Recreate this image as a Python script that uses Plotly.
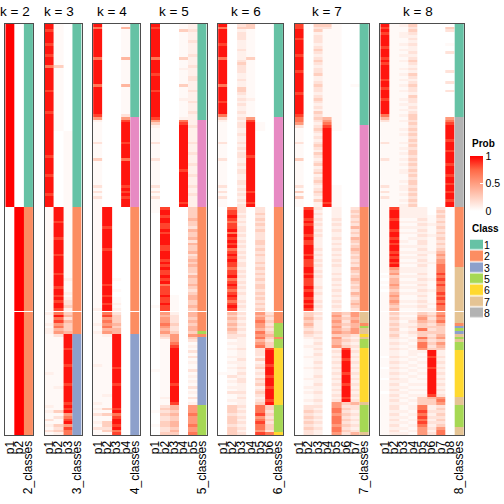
import plotly.graph_objects as go

# ---------------- data (one character per sample row, 150 rows) ----------------
# class strings: digit = class id ; prob strings: digit = membership level (see prob_levels)
classes_k2 = "1111111111 1111111111 1111111111 1111111111 1111111111 1111111111 1111111222 2222222222 2222222222 2222222222 2222222222 2222222222 2222222222 2222222222 2222222222"
p1_k2 = "aaaaaaaaaa aaaaaaaaaa aaaaaaaaaa aaaaaaaaaa aaaaaaaaaa aaaaaaaaaa aaaaaaa000 0000000000 0000000000 0000000000 0000000000 0000000000 0000000000 0000000000 0000000000"
p2_k2 = "0000000000 0000000000 0000000000 0000000000 0000000000 0000000000 0000000aaa aaaaaaaaaa aaaaaaaaaa aaaaaaaaaa aaaaaaaaaa aaaaaaaaaa aaaaaaaaaa aaaaaaaaaa aaaaaaaaaa"

classes_k3 = "1111111111 1111111111 1111111111 1111111111 1111111111 1111111111 1111111222 2222222222 2222222222 2222222222 2222222222 2223333333 3333333333 3333333333 3333333333"
p1_k3 = "9989999899 9899979999 9999899999 9989999999 9999999989 9999989999 9989999111 1111111111 1111111111 1111111111 1111121112 1221111111 1111111211 1111111112 1211312131"
p2_k3 = "1111111111 1111141111 1111111111 1111111110 0000000000 0000000000 0000000999 9989999989 9999899999 9899998998 9899879786 7563111111 1111111111 1121111111 1413114342"
p3_k3 = "0000000000 0000000000 0000000000 0000000001 1111111111 1111111111 1111111111 1111111111 1111111111 1112111121 2334245354 4459999989 9999899999 9899999989 8967896877"

classes_k4 = "1111111111 1111111111 1111111111 1111444444 4444444444 4444444444 4444444222 2222222222 2222222222 2222222222 2222222222 2223333333 3333333333 3333333333 3333333333"
p1_k4 = "9799999999 9979999999 9979999999 9998621111 1113111114 1111111113 1313111111 1111111111 1111111111 1111111111 1111211112 1121111111 1111211111 1111111121 2131121311"
p2_k4 = "0000000000 0000000000 0000000000 0000000000 0000000000 0000000000 0000000999 9999899999 9989999999 9999989998 9989978676 7562111111 1111111111 1111121111 4141144341"
p3_k4 = "0000000000 0000000000 0000000000 0000000000 0000000000 0000000000 0000000000 0000000000 0000000000 0001000100 1121234445 4559999999 9999989999 9899999999 8978998978"
p4_k4 = "1511111111 1151111111 1151111111 1113689999 9998999997 9999999998 9898999000 0000000000 0000000000 0000000000 0000000000 0000000000 0000000000 0000000000 0000000000"

classes_k5 = "1111111111 1111111111 1111111111 1111144444 4444444444 4444444444 4444444222 2222222222 2222222222 2222222222 2222222222 2252333333 3333333333 3333333335 5555555555"
p1_k5 = "9899999999 9979999989 9999899999 9999864211 1113111113 1111111113 1313111110 0000000000 0000000000 0000000000 0001000000 0000000000 0000001000 0000000000 0100001000"
p2_k5 = "0000000000 0000000000 0000000000 0000000000 0000000000 0000000000 0000000899 8998898999 9889998989 8898978889 8898865667 6564311111 1111111111 1111112113 4343344334"
p3_k5 = "0000000000 0000000000 0000000000 0000000000 0000000000 0000000000 0000000000 0000000000 0000000000 0000000001 1111123334 3346667899 9999999999 9899999985 5454455454"
p4_k5 = "1141111111 1141112111 1141111211 1111278999 9999999999 9998999999 9999989000 0000000000 0000000000 0000000000 0000000000 0000000000 0000000000 0000000000 0000000000"
p5_k5 = "2232223222 2322232223 3222322232 2232222322 2223222322 2322232223 2232222444 4544354453 5445345454 4354454345 5445455454 5546431213 1312113121 2131213126 6676667667"

classes_k6 = "1111111111 1111111111 1111111111 1111444444 4444444444 4444444444 4444444222 2222222222 2222222222 2222222222 2222222225 5555255566 6666666666 6666666665 5555555556"
p1_k6 = "9799999899 9979999999 9979999989 9997421111 1113111113 1111111113 1313111000 0000000000 0000000000 0000000000 0000000000 0000000000 0000000100 0000000000 0000000000"
p2_k6 = "0000000000 0000000000 0000000000 0000000000 0000000000 0000000000 0000000788 9878897989 8978989887 8897898789 8789854545 4543312121 1212121131 2121311214 4434443444"
p3_k6 = "3423332223 2223433322 3224432323 2232323322 3223232332 2323322332 3232323332 3232332323 2323232332 3232323232 2323232323 2323222232 2232232323 3222323223 2323232323"
p4_k6 = "4411111111 1141111111 1111111211 1111689999 9999999989 9999999999 9899989000 0000000000 0000000000 0000000000 0000000000 0000000000 0000000000 0000000000 0000000000"
p5_k6 = "0000000000 0000000000 0000000000 0000001110 0000000000 0000000000 0000000334 3434343334 4343433434 3434344343 4343465676 6576756733 3242342324 3423432347 7786787768"
p6_k6 = "0000000000 0000000000 0000000000 0000000000 0000000000 0000000000 0000000000 0000000000 0000000000 0000000000 0000034343 4345434489 9999899989 9989999894 4343434437"

classes_k7 = "1111111111 1111111111 1111111111 1111111444 4444444444 4444444444 4444444222 2222222222 2222222222 2222222222 2222277772 5776755566 6666666666 6666666675 5555555557"
p1_k7 = "8899989999 9899999899 9999989999 9998776311 1113111114 1111111113 1414111000 0000000000 0000000000 0000000000 0000000000 0000000000 0000000000 0000000000 0000000000"
p2_k7 = "0000000000 0000000000 0000000000 0000000000 0000000000 0000000000 0000000899 9898999898 8999898889 9898889899 8989844545 4343211211 1211121112 1121211213 3434343433"
p3_k7 = "4342333234 3234323342 2343323432 3243432343 2323432432 3423423432 3432422323 2323232322 2232323232 3232223232 2323232322 2232323232 3223232232 2322322323 2323232322"
p4_k7 = "4311111111 1111111111 1111111111 1111567899 9999999999 9999999999 9999989000 0000000000 0000000000 0000000000 0000000000 0000000000 0000000000 0000000000 0000000000"
p5_k7 = "1111111111 1111111111 1111111111 1111111110 0000000000 0000000001 1111111222 2323232232 3232323232 2323232323 2323256565 6564655623 2323232323 2323232366 7767776776"
p6_k7 = "0000000000 0000000000 0000000000 0000000000 0000000000 0000000000 0000000000 0000000000 0000000000 0000000000 0000043434 3454343489 9989999899 9899998943 4343434343"
p7_k7 = "0000000000 0000000000 0010000000 0000000000 0000000000 0000000000 0000000343 4343534354 3454343435 4345434354 3454366565 5663232323 2323232323 2323232353 3232323235"

classes_k8 = "1111111111 1111111111 1111111111 1111888888 8888888888 8888888888 8888888222 2222222222 2222222227 7777777777 7777777772 3537575556 6666666666 6666667775 5555555777"
p1_k8 = "9898999989 9989899999 8998999899 9997531111 1113111113 1111111113 1313111111 1111111111 1111111111 1010101011 1111111111 1111111111 1011101110 1111011111 1111111111"
p2_k8 = "1111111111 1111111111 1111111111 1111111111 1111111111 1111111111 1111111899 9899989989 8998989896 5645565456 5654543434 3434323232 2323232323 2323232323 3232323232"
p3_k8 = "2112211212 1212112121 2121211212 1212121121 2112121212 1212211212 2121212222 2121212112 1212121212 2121212121 1212121212 2121212121 1212121212 2121212121 1212121212"
p4_k8 = "4343232322 3234323243 2343324332 3234434343 4343434434 3434343443 4343434222 2121212121 1212121212 2121212121 1212121232 3232121212 2121212121 1212121212 2121212121"
p5_k8 = "0000000000 0000000000 0000000000 0000000000 0000000000 0000000000 0000000222 2323232323 3232323232 2323232323 2323245654 4744757762 1212121212 1212124447 7878787666"
p6_k8 = "0000000000 0000000000 0000000000 0000000000 0000000000 0000000000 0000000000 1112111211 1112111211 1112111211 1121234343 4343434349 9899989999 9999985442 2323232323"
p7_k8 = "0000000000 0000000000 0000000000 0000000000 0000000000 0000000000 0000000343 4343434343 4345656677 7878787787 8787767675 4445646542 2323232323 2323236763 4343434677"
p8_k8 = "0430000100 3000000300 0300300000 0000678999 9989998999 9899989989 9899899000 0000000000 0000000000 0000000000 0000000000 0000000000 0000000000 0000000000 0000000000"

legend_classes = [1, 2, 3, 5, 6, 7, 8]
class_colors = {1: "#66C2A5", 2: "#FC8D62", 3: "#8DA0CB", 4: "#E78AC3",
                5: "#A6D854", 6: "#FFD92F", 7: "#E5C494", 8: "#B3B3B3"}
prob_levels = {"0": 0.0, "1": 0.03, "2": 0.08, "3": 0.15, "4": 0.25, "5": 0.38,
               "6": 0.52, "7": 0.68, "8": 0.84, "9": 0.95, "a": 1.0}
prob_ticks = [0, 0.5, 1]

panels = [
    (2, classes_k2, [p1_k2, p2_k2]),
    (3, classes_k3, [p1_k3, p2_k3, p3_k3]),
    (4, classes_k4, [p1_k4, p2_k4, p3_k4, p4_k4]),
    (5, classes_k5, [p1_k5, p2_k5, p3_k5, p4_k5, p5_k5]),
    (6, classes_k6, [p1_k6, p2_k6, p3_k6, p4_k6, p5_k6, p6_k6]),
    (7, classes_k7, [p1_k7, p2_k7, p3_k7, p4_k7, p5_k7, p6_k7, p7_k7]),
    (8, classes_k8, [p1_k8, p2_k8, p3_k8, p4_k8, p5_k8, p6_k8, p7_k8, p8_k8]),
]

# ---------------- layout constants ----------------
W = H = 504
COLW, PGAP, X0 = 9.3, 11.35, 5.3
TOP, BOT = 24, 435
N = 150
SPLIT = 105          # rows above the thin white separator
GAPH = 0.4           # separator height in row units
FONT = "Liberation Sans, Arial, Helvetica, sans-serif"


def clean(s):
    s = s.replace(" ", "")
    if len(s) != N:
        raise ValueError("bad length %d" % len(s))
    return s


row_edges = [float(i) for i in range(SPLIT + 1)] + [i + GAPH for i in range(SPLIT, N + 1)]


def with_gap(rows):
    return rows[:SPLIT] + [[None] * len(rows[0])] + rows[SPLIT:]


prob_scale = [[0, "#FFFFFF"], [0.25, "#FFCFBF"], [0.5, "#FF9E81"], [0.75, "#FF6846"], [1, "#FF0000"]]
class_scale = []
for c in range(1, 9):
    class_scale.append([(c - 1) / 8, class_colors[c]])
    class_scale.append([c / 8, class_colors[c]])

fig = go.Figure()
layout = {}
annotations = []
xleft = X0
for i, (k, cls, probs) in enumerate(panels):
    sfx = "" if i == 0 else str(i + 1)
    xr = xleft + (k + 1) * COLW
    cols = [[prob_levels[ch] for ch in clean(p)] for p in probs]
    zp = [[cols[j][r] for j in range(k)] for r in range(N)]
    zc = [[int(ch)] for ch in clean(cls)]
    fig.add_trace(go.Heatmap(
        z=with_gap(zp), x=[j - 0.5 for j in range(k + 1)], y=row_edges,
        colorscale=prob_scale, zmin=0, zmax=1, showscale=(i == 0),
        colorbar=dict(x=470 / W, xanchor="left", y=1 - 183.5 / H, yanchor="middle",
                      len=55, lenmode="pixels", thickness=13, thicknessmode="pixels",
                      tickvals=prob_ticks, ticktext=[str(t) for t in prob_ticks],
                      ticks="inside", ticklen=3, tickcolor="white", outlinewidth=0,
                      tickfont=dict(size=10.5, family=FONT, color="black"), xpad=0, ypad=0),
        xaxis="x" + sfx, yaxis="y" + sfx, hoverinfo="skip"))
    fig.add_trace(go.Heatmap(
        z=with_gap(zc), x=[k - 0.5, k + 0.5], y=row_edges,
        colorscale=class_scale, zmin=0.5, zmax=8.5, showscale=False,
        xaxis="x" + sfx, yaxis="y" + sfx, hoverinfo="skip"))
    layout["xaxis" + sfx] = dict(
        domain=[xleft / W, xr / W], range=[-0.5, k + 0.5], anchor="y" + sfx,
        tickvals=list(range(k + 1)),
        ticktext=["p%d" % (j + 1) for j in range(k)] + ["%d_classes" % k],
        tickangle=-90, ticks="", showgrid=False, zeroline=False,
        showline=True, mirror=True, linecolor="#4d4d4d", linewidth=1,
        tickfont=dict(size=12, family=FONT, color="black"))
    layout["yaxis" + sfx] = dict(
        domain=[1 - BOT / H, 1 - TOP / H], range=[N + GAPH, 0], anchor="x" + sfx,
        showticklabels=False, ticks="", showgrid=False, zeroline=False,
        showline=True, mirror=True, linecolor="#4d4d4d", linewidth=1)
    annotations.append(dict(x=(xleft + k * COLW / 2) / W, y=1 - 11 / H, xref="paper", yref="paper",
                            text="k = %d" % k, showarrow=False, xanchor="center", yanchor="middle",
                            font=dict(size=13.5, family=FONT, color="black")))
    xleft = xr + PGAP

# class legend drawn as a small discrete heatmap
fig.add_trace(go.Heatmap(
    z=[[c] for c in legend_classes], x=[0], y=list(range(len(legend_classes))),
    colorscale=class_scale, zmin=0.5, zmax=8.5, showscale=False, ygap=1.3,
    xaxis="x8", yaxis="y8", hoverinfo="skip"))
layout["xaxis8"] = dict(domain=[470 / W, 483 / W], range=[-0.5, 0.5], anchor="y8",
                        visible=False)
layout["yaxis8"] = dict(domain=[1 - (239.5 + 7 * 11.35) / H, 1 - 239.5 / H],
                        range=[len(legend_classes) - 0.5, -0.5], anchor="x8", side="right",
                        tickvals=list(range(len(legend_classes))),
                        ticktext=[str(c) for c in legend_classes], ticks="",
                        showgrid=False, zeroline=False, showline=False,
                        tickfont=dict(size=10.5, family=FONT, color="black"))

annotations.append(dict(x=470 / W, y=1 - 143.5 / H, xref="paper", yref="paper", text="<b>Prob</b>",
                        showarrow=False, xanchor="left", yanchor="middle",
                        font=dict(size=10, family=FONT, color="black")))
annotations.append(dict(x=470 / W, y=1 - 229 / H, xref="paper", yref="paper", text="<b>Class</b>",
                        showarrow=False, xanchor="left", yanchor="middle",
                        font=dict(size=10, family=FONT, color="black")))

fig.update_layout(width=W, height=H, margin=dict(l=0, r=0, t=0, b=0, autoexpand=False),
                  paper_bgcolor="white", plot_bgcolor="white", showlegend=False,
                  annotations=annotations, **layout)
fig.write_html("out.html", config={"displayModeBar": False, "staticPlot": True},
               post_script="document.body.style.margin='0px';document.body.style.overflow='hidden';")
